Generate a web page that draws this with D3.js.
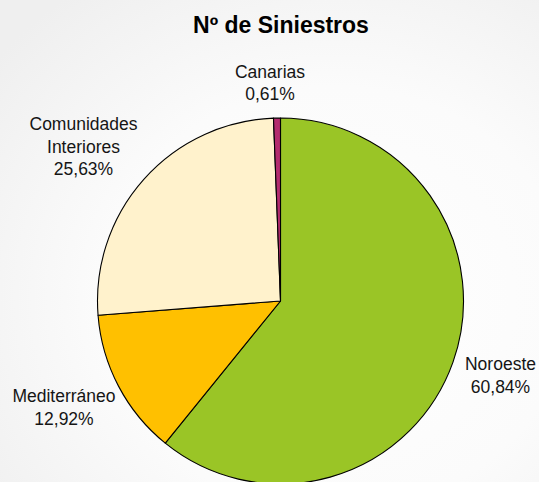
<!DOCTYPE html>
<meta charset="utf-8">
<style>
body{margin:0;}
svg{display:block;font-family:"Liberation Sans",Arial,sans-serif;}
.lbl{font-size:17.5px;fill:#151515;}
</style>
<body>
<script src="https://cdn.jsdelivr.net/npm/d3@7"></script>
<script>
var regions = ["Noroeste", "Mediterráneo", "Comunidades Interiores", "Canarias"];
var shares = [60.84, 12.92, 25.63, 0.61];
var colors = ["#9ac526", "#ffc000", "#fff2cc", "#b42c6e"];
// label lines and anchor points (text layout)
var labelLines = [["Noroeste"], ["Mediterráneo"], ["Comunidades", "Interiores"], ["Canarias"]];
var labelPos = [[500.5, 370], [64, 402], [83.5, 130], [270, 77.5]];

var W = 539, H = 482, cx = 280.5, cy = 301, R = 183;

var svg = d3.select("body").append("svg").attr("width", W).attr("height", H);

var defs = svg.append("defs");
var grad = defs.append("radialGradient").attr("id", "bg")
  .attr("cx", "62%").attr("cy", "62%").attr("r", "80%");
grad.append("stop").attr("offset", "0%").attr("stop-color", "#ffffff");
grad.append("stop").attr("offset", "55%").attr("stop-color", "#fbfbfb");
grad.append("stop").attr("offset", "100%").attr("stop-color", "#efefef");
svg.append("rect").attr("width", W).attr("height", H).attr("fill", "url(#bg)");

svg.append("text").attr("x", 281).attr("y", 33).attr("text-anchor", "middle")
  .style("font-size", "23px").style("font-weight", "bold").text("Nº de Siniestros");

var data = regions.map(function(r, i){ return {name: r, value: shares[i], i: i}; });

var pie = d3.pie().sort(null).value(function(d){ return d.value; });
var arc = d3.arc().innerRadius(0).outerRadius(R);

var g = svg.append("g").attr("transform", "translate(" + cx + "," + cy + ")");
g.selectAll("path").data(pie(data)).enter().append("path")
  .attr("d", arc)
  .attr("fill", function(d){ return colors[d.data.i]; })
  .attr("stroke", "#000").attr("stroke-width", 1.1).attr("stroke-linejoin", "round");

var fmt = function(v){ return v.toFixed(2).replace(".", ",") + "%"; };

data.forEach(function(d, i){
  var lines = labelLines[i].concat([fmt(d.value)]);
  var t = svg.append("text").attr("class", "lbl").attr("text-anchor", "middle")
    .attr("x", labelPos[i][0]).attr("y", labelPos[i][1]);
  lines.forEach(function(s, k){
    t.append("tspan").attr("x", labelPos[i][0]).attr("dy", k ? 22.5 : 0).text(s);
  });
});
</script>
</body>
